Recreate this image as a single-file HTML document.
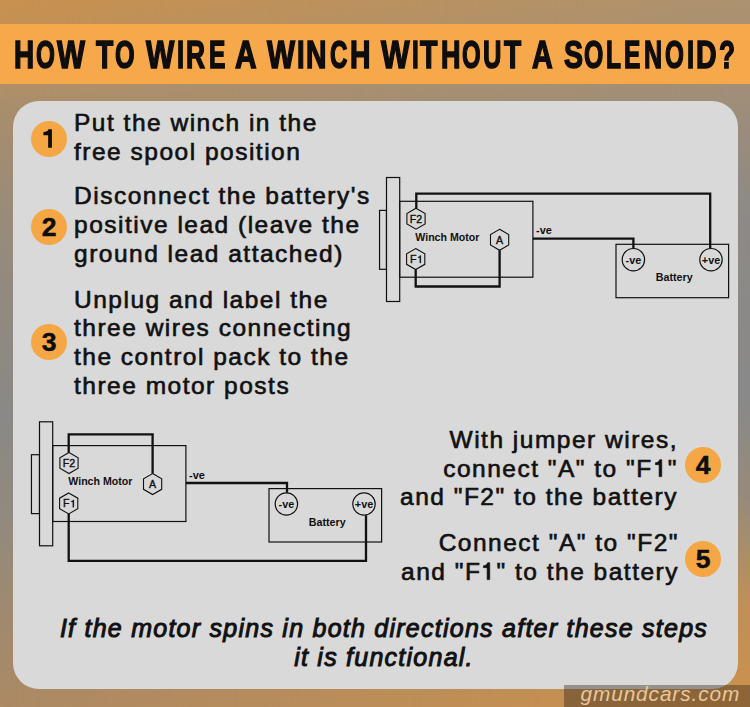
<!DOCTYPE html>
<html><head><meta charset="utf-8">
<style>
html,body{margin:0;padding:0;}
body{width:750px;height:707px;overflow:hidden;position:relative;font-family:"Liberation Sans",sans-serif;
background:linear-gradient(180deg,rgb(202,145,78) 0px,rgb(196,145,84) 24px,rgb(176,144,104) 90px,rgb(168,142,108) 110px,rgb(155,140,120) 200px,rgb(145,138,128) 300px,rgb(138,137,135) 420px,rgb(146,138,126) 520px,rgb(160,138,110) 620px,rgb(172,138,100) 707px);}
#bgR{position:absolute;left:0;top:0;width:750px;height:707px;
background:linear-gradient(180deg,rgb(172,146,112) 0px,rgb(160,142,120) 90px,rgb(142,138,134) 200px,rgb(137,137,137) 400px,rgb(150,139,122) 500px,rgb(190,144,88) 600px,rgb(205,145,75) 707px);
-webkit-mask-image:linear-gradient(90deg,transparent,#000);mask-image:linear-gradient(90deg,transparent,#000);}
#bar{position:absolute;left:0;top:24px;width:750px;height:60px;background:#f7a84b;}
#title{position:absolute;left:0;top:25px;width:750px;height:60px;}
#title span{position:absolute;top:0;font-weight:bold;font-size:38.4px;line-height:60px;-webkit-text-stroke:1.5px #0d0d0d;color:#0d0d0d;transform-origin:0 0;white-space:nowrap;}
#panel{position:absolute;left:13px;top:101px;width:725px;height:588px;border-radius:26px;background:#d9d9d9;}
.badge{position:absolute;width:36px;height:36px;border-radius:50%;background:#f6a745;color:#0d0d0d;font-weight:bold;font-size:26.5px;line-height:36px;text-align:center;-webkit-text-stroke:0.5px #0d0d0d;}
.step{position:absolute;font-size:24.5px;line-height:28.8px;letter-spacing:1.5px;-webkit-text-stroke:0.65px #111;color:#111;white-space:nowrap;}
.r{text-align:right;}
#note{position:absolute;left:0;width:768px;top:614.2px;text-align:center;font-style:italic;font-size:25px;line-height:28.8px;letter-spacing:1.25px;-webkit-text-stroke:1px #111;color:#111;white-space:nowrap;}
#wm{position:absolute;left:564px;top:685px;width:186px;height:22px;background:rgba(40,30,20,0.38);}
#wmt{position:absolute;left:580.5px;top:682px;font-style:italic;font-size:20.8px;line-height:24px;letter-spacing:0.9px;color:#e6c89c;white-space:nowrap;}
svg.main{position:absolute;left:0;top:0;}
.g1{width:0.556em;height:0.72em;vertical-align:baseline;margin-right:1.5px;fill:#111;stroke:#111;stroke-width:26px;overflow:visible;}
svg text{font-family:"Liberation Sans",sans-serif;}
</style></head><body>
<div id="bgR"></div>
<div id="bar"></div>
<div id="title">
<span style="left:13.67px;transform:scaleX(0.7269)">H</span>
<span style="left:35.70px;transform:scaleX(0.6333)">O</span>
<span style="left:56.77px;transform:scaleX(0.7711)">W</span>
<span style="left:96.04px;transform:scaleX(0.7360)">T</span>
<span style="left:115.00px;transform:scaleX(0.6567)">O</span>
<span style="left:146.08px;transform:scaleX(0.7816)">W</span>
<span style="left:176.63px;transform:scaleX(0.6667)">I</span>
<span style="left:186.01px;transform:scaleX(0.6889)">R</span>
<span style="left:208.66px;transform:scaleX(0.6400)">E</span>
<span style="left:234.90px;transform:scaleX(0.7786)">A</span>
<span style="left:266.87px;transform:scaleX(0.7737)">W</span>
<span style="left:296.89px;transform:scaleX(0.7111)">I</span>
<span style="left:306.46px;transform:scaleX(0.7385)">N</span>
<span style="left:330.40px;transform:scaleX(0.6286)">C</span>
<span style="left:350.46px;transform:scaleX(0.7385)">H</span>
<span style="left:380.79px;transform:scaleX(0.7895)">W</span>
<span style="left:411.67px;transform:scaleX(0.6333)">I</span>
<span style="left:420.44px;transform:scaleX(0.7440)">T</span>
<span style="left:440.70px;transform:scaleX(0.7038)">H</span>
<span style="left:462.00px;transform:scaleX(0.6233)">O</span>
<span style="left:483.33px;transform:scaleX(0.6654)">U</span>
<span style="left:504.03px;transform:scaleX(0.7320)">T</span>
<span style="left:532.40px;transform:scaleX(0.7464)">A</span>
<span style="left:563.70px;transform:scaleX(0.7440)">S</span>
<span style="left:584.30px;transform:scaleX(0.6467)">O</span>
<span style="left:606.36px;transform:scaleX(0.6391)">L</span>
<span style="left:623.66px;transform:scaleX(0.6400)">E</span>
<span style="left:644.35px;transform:scaleX(0.6538)">N</span>
<span style="left:665.00px;transform:scaleX(0.6333)">O</span>
<span style="left:686.63px;transform:scaleX(0.6667)">I</span>
<span style="left:695.96px;transform:scaleX(0.7423)">D</span>
<span style="left:719.32px;transform:scaleX(0.6818)">?</span>

</div>
<div id="panel"></div>

<div class="badge" style="left:31px;top:121px;"></div>
<div class="badge" style="left:31px;top:209px;">2</div>
<div class="badge" style="left:31px;top:324px;">3</div>
<div class="badge" style="left:685px;top:447px;">4</div>
<div class="badge" style="left:685px;top:541px;">5</div>

<div class="step" style="left:74px;top:109.4px;">Put the winch in the<br>free spool position</div>
<div class="step" style="left:74px;top:182.4px;">Disconnect the battery's<br>positive lead (leave the<br>ground lead attached)</div>
<div class="step" style="left:74px;top:285.6px;">Unplug and label the<br>three wires connecting<br>the control pack to the<br>three motor posts</div>
<div class="step r" style="right:72px;top:425.9px;">With jumper wires,<br>connect "A" to "F<svg class="g1" viewBox="0 -720 556 720"><path d="M358,0 V-690 H268 C250,-615 190,-572 100,-567 V-490 H250 V0 Z"/></svg>"<br>and "F2" to the battery</div>
<div class="step r" style="right:71px;top:529.3px;">Connect "A" to "F2"<br>and "F<svg class="g1" viewBox="0 -720 556 720"><path d="M358,0 V-690 H268 C250,-615 190,-572 100,-567 V-490 H250 V0 Z"/></svg>" to the battery</div>

<div id="note">If the motor spins in both directions after these steps<br>it is functional.</div>

<svg class="main" width="750" height="707" viewBox="0 0 750 707">
<defs>
<polygon id="hex" points="0,-10.5 9.1,-5.25 9.1,5.25 0,10.5 -9.1,5.25 -9.1,-5.25" fill="#d9d9d9" stroke="#111" stroke-width="1.1"/>
<g id="motor">
  <rect x="39.5" y="421.8" width="13.2" height="124" fill="#d9d9d9" stroke="#111" stroke-width="1.2"/>
  <rect x="52.7" y="445.6" width="133.2" height="75.9" fill="none" stroke="#111" stroke-width="1.2"/>
  <text x="68.3" y="485.3" font-size="10.6" font-weight="bold" fill="#111">Winch Motor</text>
  <text x="189" y="478.8" font-size="11" font-weight="bold" fill="#111">-ve</text>
  <rect x="269" y="488.6" width="112.6" height="53.4" fill="none" stroke="#111" stroke-width="1.2"/>
  <text x="308.8" y="525.6" font-size="10.7" font-weight="bold" fill="#111">Battery</text>
</g>
<g id="term">
  <circle cx="286.4" cy="504" r="11.2" fill="#d9d9d9" stroke="#111" stroke-width="1.2"/>
  <circle cx="364" cy="504" r="11.2" fill="#d9d9d9" stroke="#111" stroke-width="1.2"/>
  <text x="286.4" y="508" font-size="10.8" font-weight="bold" text-anchor="middle" fill="#111">-ve</text>
  <text x="364" y="508" font-size="10.8" font-weight="bold" text-anchor="middle" fill="#111">+ve</text>
  <g transform="translate(69,463)"><use href="#hex"/><text y="3.8" font-size="10.6" text-anchor="middle" fill="#111" stroke="#111" stroke-width="0.4">F2</text></g>
  <g transform="translate(68.7,503.4)"><use href="#hex"/><text x="-5.7" y="3.8" font-size="10.6" fill="#111" stroke="#111" stroke-width="0.4">F</text><path transform="translate(1.4,3.8) scale(0.0106)" d="M358,0 V-690 H268 C250,-615 190,-572 100,-567 V-490 H250 V0 Z" fill="#111" stroke="#111" stroke-width="24"/></g>
  <g transform="translate(152.6,484.1)"><use href="#hex"/><text y="3.8" font-size="10.6" text-anchor="middle" fill="#111" stroke="#111" stroke-width="0.4">A</text></g>
</g>
</defs>
<path d="M51.9,147.7 V129.2 H48.4 C48,130.9 46.4,131.9 43.4,132 V135.3 H48.15 V147.7 Z" fill="#0d0d0d"/>
<!-- diagram 2 (bottom-left) -->
<rect x="31.45" y="454.7" width="8.05" height="58.9" fill="none" stroke="#111" stroke-width="1.2"/>
<use href="#motor"/>
<g fill="none" stroke="#111" stroke-width="2.3" stroke-linejoin="miter">
  <path d="M68.7,452.5 V434.3 H152.6 V473.6"/>
  <path d="M185.9,483 H287 V492.8"/>
  <path d="M68.7,513.9 V560.9 H366 V515.2"/>
</g>
<use href="#term"/>
<!-- diagram 1 (top-right) -->
<g transform="translate(347,-244.3)">
<rect x="32.55" y="454.7" width="6.95" height="58.9" fill="none" stroke="#111" stroke-width="1.2"/>
<use href="#motor"/>
<g fill="none" stroke="#111" stroke-width="2.3" stroke-linejoin="miter">
  <path d="M69.3,452.5 V437.9 H363.2 V492.8"/>
  <path d="M185.9,483 H286.4 V492.8"/>
  <path d="M68.7,513.9 V530.8 H152.6 V494.6"/>
</g>
<use href="#term"/>
</g>
</svg>

<div id="wm"></div>
<div id="wmt">gmundcars.com</div>
</body></html>
